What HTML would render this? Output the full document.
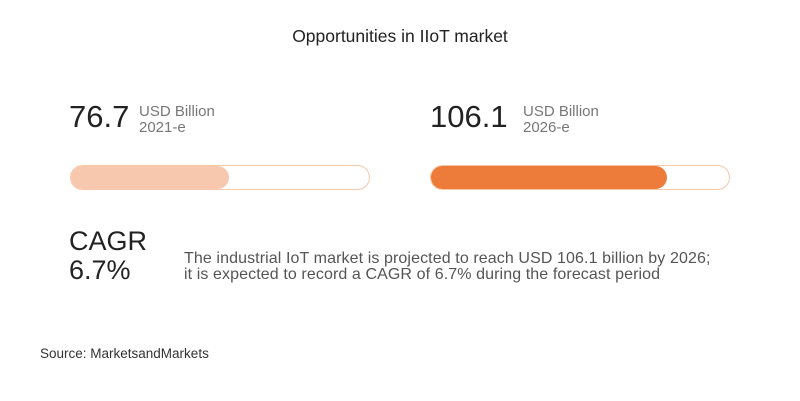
<!DOCTYPE html>
<html><head><style>
body{margin:0;width:800px;height:401px;background:#fff;font-family:"Liberation Sans",sans-serif;position:relative;overflow:hidden;color:#333}
.a{position:absolute;white-space:nowrap}
.bar{position:absolute;height:23px;border:1px solid #f5c7ab;border-radius:13px;background:#fff}
.fill{position:absolute;left:0;top:0;bottom:0;border-radius:12px}
</style></head><body>
<div class="a" style="left:0;width:800px;text-align:center;top:26px;font-size:17.5px;color:#222">Opportunities in IIoT market</div>
<div class="a" style="left:69px;top:99px;font-size:31px;color:#222">76.7</div>
<div class="a" style="left:139px;top:104px;font-size:15px;line-height:16px;color:#777">USD Billion<br>2021-e</div>
<div class="a" style="left:430px;top:99px;font-size:31px;color:#222">106.1</div>
<div class="a" style="left:523px;top:104px;font-size:15px;line-height:16px;color:#777">USD Billion<br>2026-e</div>
<div class="bar" style="left:70px;top:165px;width:298px"><div class="fill" style="width:158px;background:#f8c8ae"></div></div>
<div class="bar" style="left:430px;top:165px;width:298px"><div class="fill" style="width:236px;background:#ed7b3a"></div></div>
<div class="a" style="left:69px;top:227px;font-size:27px;line-height:29px;color:#222">CAGR<br>6.7%</div>
<div class="a" style="left:184px;top:251px;font-size:16px;line-height:16px;color:#555;letter-spacing:0.1px">The industrial IoT market is projected to reach USD 106.1 billion by 2026;<br>it is expected to record a CAGR of 6.7% during the forecast period</div>
<div class="a" style="left:40px;top:346px;font-size:13.5px;color:#333">Source: MarketsandMarkets</div>
</body></html>
